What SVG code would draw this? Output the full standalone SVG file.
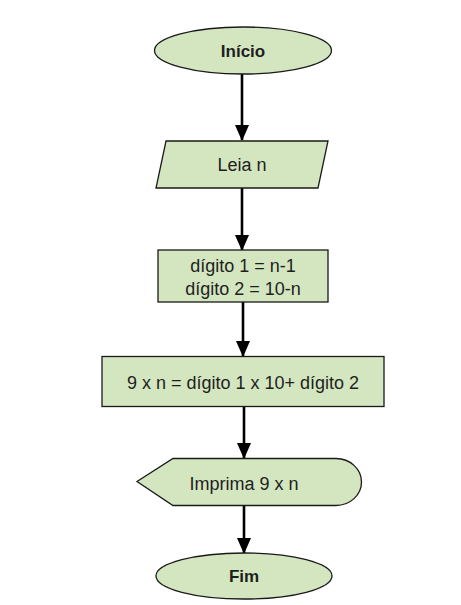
<svg xmlns="http://www.w3.org/2000/svg" width="461" height="605" viewBox="0 0 461 605">
<defs>
<style>
.n{fill:#d3e6c0;stroke:#1a1a1a;stroke-width:1.3}
.t{font-family:"Liberation Sans",Arial,sans-serif;font-size:18px;fill:#1e1e1e;text-anchor:middle}
.b{font-weight:bold;font-size:17px}
.c{stroke:#000;stroke-width:2.6;fill:none;marker-end:url(#ah)}
</style>
<marker id="ah" markerUnits="userSpaceOnUse" markerWidth="16" markerHeight="24" refX="15" refY="7" orient="auto" viewBox="0 0 16 14">
<path d="M0,0 L16,7 L0,14 Z" fill="#000"/>
</marker>
</defs>
<rect width="461" height="605" fill="#fff"/>
<g id="connectors">
<line class="c" x1="242" y1="74" x2="242" y2="140"/>
<line class="c" x1="242" y1="188" x2="242" y2="250"/>
<line class="c" x1="243" y1="302" x2="243" y2="356"/>
<line class="c" x1="244" y1="406" x2="244" y2="458"/>
<line class="c" x1="244" y1="505" x2="244" y2="553"/>
</g>
<g id="inicio">
<ellipse class="n" cx="243" cy="50.5" rx="88.5" ry="23.5"/>
<text class="t b" x="243" y="57">Início</text>
</g>
<g id="leia">
<polygon class="n" points="166,141 328,141 318,188 156,188"/>
<text class="t" x="242" y="171">Leia n</text>
</g>
<g id="digitos">
<rect class="n" x="158" y="250" width="170" height="52"/>
<text class="t" x="243" y="272">dígito 1 = n-1</text>
<text class="t" x="243" y="295">dígito 2 = 10-n</text>
</g>
<g id="calculo">
<rect class="n" x="102" y="356.5" width="282" height="50"/>
<text class="t" x="243" y="389">9 x n = dígito 1 x 10+ dígito 2</text>
</g>
<g id="imprima">
<path class="n" d="M137,481.5 L173,458.5 L336,458.5 A25.5,23.5 0 0 1 336,505.5 L173,505.5 Z"/>
<text class="t" x="244" y="489.5">Imprima 9 x n</text>
</g>
<g id="fim">
<ellipse class="n" cx="244" cy="576" rx="88" ry="23"/>
<text class="t b" x="244" y="582">Fim</text>
</g>
</svg>
